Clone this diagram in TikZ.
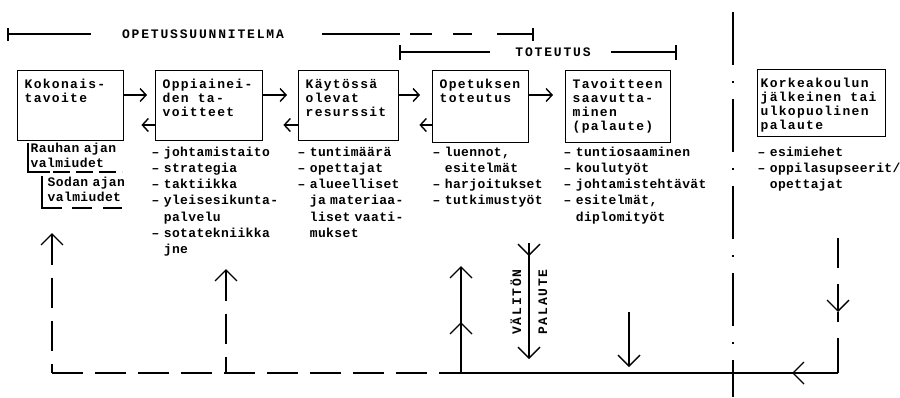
\documentclass[tikz,border=0pt]{standalone}
\usepackage{fontspec}
\usetikzlibrary{arrows.meta}
\newfontfamily\tw[LetterSpace=10]{Liberation Mono}
\newfontfamily\twlist[LetterSpace=3]{Liberation Mono}
\newfontfamily\twcaps[LetterSpace=14]{Liberation Mono}
\newcommand{\boxtext}[3]{\parbox[t][#2][t]{#1}{\strut#3}}
\newcommand{\ind}{\hphantom{–}\ }
\begin{document}
\begin{tikzpicture}[x=1pt,y=-1pt,line width=1.4pt,
    box/.style={draw, anchor=north west, inner xsep=7pt, inner ysep=8pt, font=\tw\bfseries\fontsize{13}{14}\selectfont},
    items/.style={anchor=base west, text width=150pt, align=left, inner sep=0pt, font=\twlist\bfseries\fontsize{13}{16.3}\selectfont},
    note/.style={items, font=\twlist\bfseries\fontsize{13}{15}\selectfont},
    head/.style={inner sep=0pt, font=\twcaps\bfseries\fontsize{13}{14}\selectfont},
    link/.style={-{Straight Barb[length=6pt,width=13pt]}},
    big arrow/.style={-{Straight Barb[length=11pt,width=22pt]}},
    fb dash/.style={dash pattern=on 30pt off 13pt}]
\useasboundingbox (0,0) rectangle (900,397);

% boxes
\node[box] (kok) at (17,70) {\boxtext{92pt}{54pt}{Kokonais-\\tavoite}};
\node[box] (opp) at (155,70) {\boxtext{93pt}{54pt}{Oppiainei-\\den ta-\\voitteet}};
\node[box] (kay) at (298,70) {\boxtext{86pt}{54pt}{Käytössä\\olevat\\resurssit}};
\node[box] (ope) at (432,70) {\boxtext{82pt}{56pt}{Opetuksen\\toteutus}};
\node[box] (tav) at (565,70) {\boxtext{91pt}{56pt}{Tavoitteen\\saavutta-\\minen\\(palaute)}};
\node[box, inner xsep=3pt] (kor) at (757,69) {\boxtext{122pt}{51pt}{Korkeakoulun\\jälkeinen tai\\ulkopuolinen\\palaute}};

% arrows between the boxes
\draw[link, shorten >=8pt] ([yshift=-25pt]kok.north east) -- ([yshift=-25pt]opp.north west);
\draw[link, shorten >=17pt] ([yshift=-55pt]opp.north west) -- ([yshift=-55pt]kok.north east);
\draw[link, shorten >=11pt] ([yshift=-25pt]opp.north east) -- ([yshift=-25pt]kay.north west);
\draw[link, shorten >=20pt] ([yshift=-55pt]kay.north west) -- ([yshift=-55pt]opp.north east);
\draw[link, shorten >=12pt] ([yshift=-25pt]kay.north east) -- ([yshift=-25pt]ope.north west);
\draw[link, shorten >=20pt] ([yshift=-55pt]ope.north west) -- ([yshift=-55pt]kay.north east);
\draw[link, shorten >=12pt] ([yshift=-25pt]ope.north east) -- ([yshift=-25pt]tav.north west);

% headings
\node[head] (ops) at (203,34) {OPETUSSUUNNITELMA};
\coordinate (opsL) at (8,34);
\coordinate (opsR) at (533,34);
\draw (opsL) ++(0,-6) -- ++(0,13);
\draw (opsL) -- ([xshift=-30pt]ops.west);
\draw ([xshift=37pt]ops.east) -- ++(78,0);
\draw[dash pattern=on 22pt off 21pt on 19pt off 25pt on 40pt] (410,34) -- (opsR);
\draw (opsR) ++(0,-6) -- ++(0,13);

\node[head] (tot) at (553,52) {TOTEUTUS};
\coordinate (totL) at (400,52);
\coordinate (totR) at (676,52);
\draw (totL) ++(0,-7) -- ++(0,15);
\draw (totL) -- ([xshift=-25pt]tot.west);
\draw ([xshift=20pt]tot.east) -- (totR);
\draw (totR) ++(0,-7) -- ++(0,15);

% separator
\draw[dash pattern=on 53pt off 16pt on 2pt off 16pt] (733,12) -- (733,397);

% texts under the boxes
\node[note] (rau) at (30,152) {Rauhan ajan\\valmiudet};
\draw (28,143) |- (50,172);
\draw[dash pattern=on 17pt off 6pt] (53,172) -- (122,172);
\node[note] (sod) at (47,186) {Sodan ajan\\valmiudet};
\draw (42,176) |- (62,208);
\draw[dash pattern=on 20pt off 11pt] (72,208) -- (122,208);

\node[items] (oppl) at (151,156) {– johtamistaito\\– strategia\\– taktiikka\\– yleisesikunta-\\\ind palvelu\\– sotatekniikka\\\ind jne};
\node[items] (kayl) at (297,156) {– tuntimäärä\\– opettajat\\– alueelliset\\\ind ja materiaa-\\\ind liset vaati-\\\ind mukset};
\node[items] (opel) at (432,156) {– luennot,\\\ind esitelmät\\– harjoitukset\\– tutkimustyöt};
\node[items] (tavl) at (563,156) {– tuntiosaaminen\\– koulutyöt\\– johtamistehtävät\\– esitelmät,\\\ind diplomityöt};
\node[items] (korl) at (757,156) {– esimiehet\\– oppilasupseerit/\\\ind opettajat};

% feedback
\coordinate (fbA) at (52,373);
\coordinate (fbA1) at (52,233);
\coordinate (fbB) at (226,373);
\coordinate (fbB1) at (226,269);
\coordinate (fbC) at (442,373);
\coordinate (fbD) at (461,373);
\coordinate (fbD1) at (461,322);
\coordinate (fbD2) at (461,266);
\coordinate (val0) at (529,243);
\coordinate (val1) at (529,256);
\coordinate (val2) at (529,359);
\coordinate (fbE0) at (629,312);
\coordinate (fbE1) at (629,367);
\coordinate (fbG0) at (838,238);
\coordinate (fbG1) at (838,312);
\coordinate (fbF) at (838,373);
\coordinate (fbH) at (792,373);

\draw[fb dash, {Straight Barb[length=11pt,width=22pt]}-] (fbA1) -- (fbA);
\draw[dash pattern=on 31pt off 12pt] (fbA) -- (fbC);
\draw[fb dash, {Straight Barb[length=11pt,width=22pt]}-] (fbB1) -- (fbB);
\draw (fbF) -- (fbC);
\draw[big arrow] (fbF) -- (fbH);
\draw[big arrow] (fbD) -- (fbD1);
\draw[big arrow] (fbD) -- (fbD2);
\draw[big arrow] (val0) -- (val1);
\draw[big arrow] (val0) -- (val2);
\node[head, rotate=90] (vali) at (516,302) {VÄLITÖN};
\node[head, rotate=90] (pal) at (543,302) {PALAUTE};
\draw[big arrow] (fbE0) -- (fbE1);
\draw[big arrow, dash pattern=on 30pt off 16pt] (fbG0) -- (fbG1);
\draw[dash pattern=on 10pt off 16pt on 40pt] (fbG1) -- (fbF);
\end{tikzpicture}
\end{document}
